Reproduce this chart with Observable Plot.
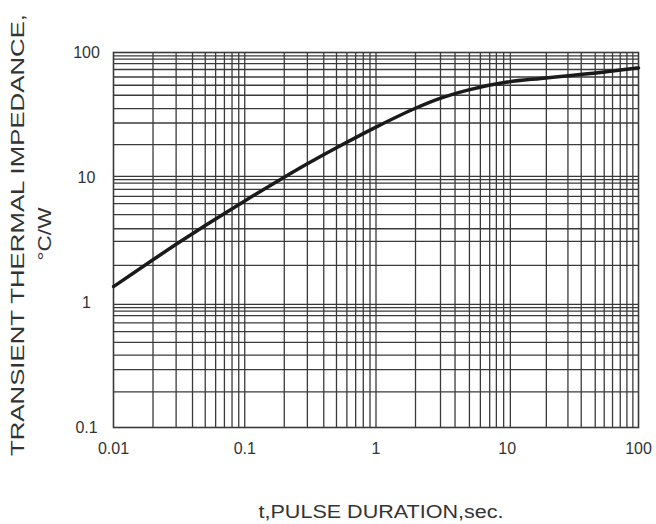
<!DOCTYPE html>
<html>
<head>
<meta charset="utf-8">
<script src="https://cdn.jsdelivr.net/npm/d3@7"></script>
<script src="https://cdn.jsdelivr.net/npm/@observablehq/plot@0.6"></script>
<style>
  html, body { margin: 0; padding: 0; background: #fff; }
  svg { display: block; }
</style>
</head>
<body>
<div id="chart"></div>
<script>
// Curve: pulse duration (s) vs transient thermal impedance (°C/W)
const tVals = [0.01, 0.02, 0.03, 0.05, 0.1, 0.2, 0.3, 0.5, 1, 2, 3, 5, 10, 18, 32, 57, 100];
const zVals = [1.34, 2.2, 2.92, 4.13, 6.5, 10.05, 12.86, 17.28, 25.3, 35.8, 42.5, 50, 58, 62, 65.7, 70, 75.3];

// Axis tick labels
const xTicks = [0.01, 0.1, 1, 10, 100];
const yTicks = [0.1, 1, 10, 100];

// Grid line values as drawn on the original sheet
const xGrid = [0.02, 0.03, 0.04, 0.05, 0.06, 0.07, 0.08, 0.09, 0.1,
  0.2, 0.3, 0.4, 0.5, 0.6, 0.7, 0.8, 0.9, 1,
  2, 3.1, 4, 5.15, 6.24, 7.35, 8.26, 9.39, 10.56,
  19.85, 29, 36.6, 46.8, 54.8, 63.4, 72.6, 81.6, 90.6];
const yGrid = [0.193, 0.29, 0.38, 0.48, 0.585, 0.687, 0.785, 0.853, 0.91, 0.967,
  1.98, 3.08, 3.89, 5.04, 6.17, 7.06, 8.03, 9.02, 9.6, 10.2,
  18.3, 27.3, 35.6, 45.5, 54.7, 63.7, 73.1, 81.6, 88.4, 93.9];

const xTitle = "t,PULSE DURATION,sec.";
const yTitle1 = "TRANSIENT THERMAL IMPEDANCE,";
const yTitle2 = "°C/W";

const data = tVals.map((t, i) => ({t, z: zVals[i]}));
const font = "Liberation Sans, Arial, Helvetica, sans-serif";
const gridColor = "#3a3a3a";
const textColor = "#333";

const chart = Plot.plot({
  width: 656,
  height: 524,
  marginLeft: 113,
  marginRight: 18,
  marginTop: 52,
  marginBottom: 97,
  style: {fontFamily: font, background: "#fff"},
  x: {type: "log", domain: [0.01, 100], axis: null},
  y: {type: "log", domain: [0.1, 100], axis: null},
  marks: [
    Plot.ruleX(xGrid, {x: d => d, stroke: gridColor, strokeWidth: 1.3}),
    Plot.ruleY(yGrid, {y: d => d, stroke: gridColor, strokeWidth: 1.3}),
    Plot.frame({stroke: gridColor, strokeWidth: 1.6}),
    Plot.line(data, {x: "t", y: "z", curve: "monotone-x", stroke: "#1a1a1a", strokeWidth: 3.5}),
    Plot.text(xTicks, {x: d => d, frameAnchor: "bottom", dy: 21, text: d => String(d),
      fontSize: 16, fill: textColor, lineAnchor: "middle", textAnchor: "middle"}),
    Plot.text(yTicks, {y: d => d, frameAnchor: "left", dx: -27, text: d => String(d),
      fontSize: 16, fill: textColor, lineAnchor: "middle", textAnchor: "middle"}),
    Plot.text([xTitle], {frameAnchor: "bottom", dx: 5, dy: 85, fontSize: 18,
      fill: textColor, lineAnchor: "middle", textAnchor: "middle"}),
    Plot.text([yTitle1], {frameAnchor: "left", dx: -96, dy: -5, rotate: -90, fontSize: 19,
      fill: textColor, lineAnchor: "middle", textAnchor: "middle"}),
    Plot.text([yTitle2], {frameAnchor: "left", dx: -68, dy: -6, rotate: -90, fontSize: 18,
      fill: textColor, lineAnchor: "middle", textAnchor: "middle"})
  ]
});

document.getElementById("chart").appendChild(chart);

// Stretch the axis titles to the widths they have on the original sheet
const stretch = {};
stretch[xTitle] = 245;
stretch[yTitle1] = 442;
stretch[yTitle2] = 53;
d3.select(chart).selectAll("text").each(function () {
  const s = stretch[this.textContent];
  if (s) d3.select(this).attr("textLength", s).attr("lengthAdjust", "spacingAndGlyphs");
});
</script>
</body>
</html>
